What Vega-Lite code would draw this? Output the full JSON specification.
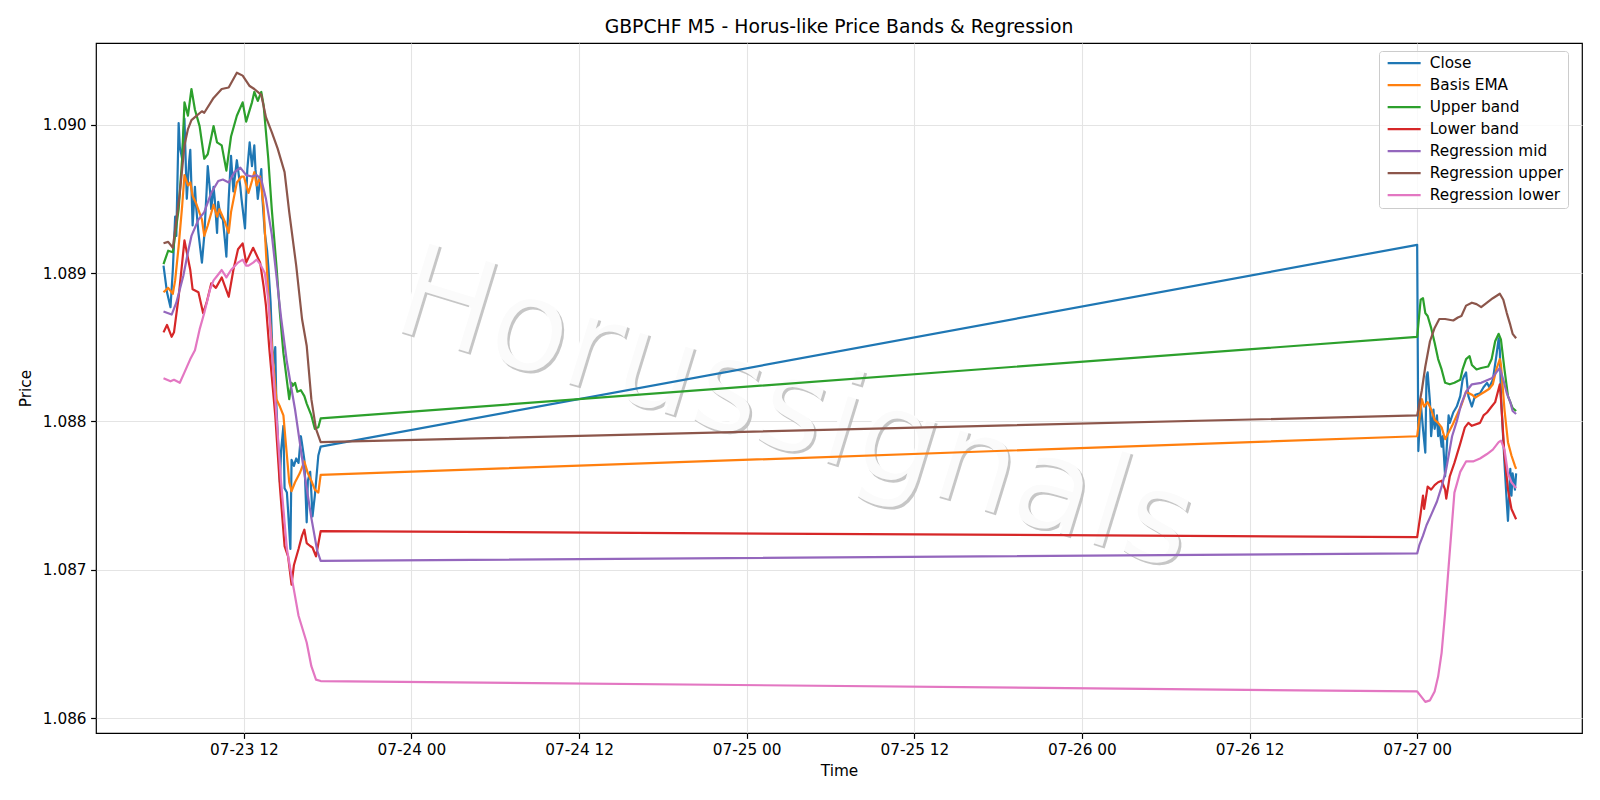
{
"$schema": "https://vega.github.io/schema/vega-lite/v6.json",
"width": 1486, "height": 690,
"autosize": {"type": "none"},
"padding": {"left": 96, "top": 43, "right": 18, "bottom": 67},
"background": "#ffffff",
"title": {"text": "GBPCHF M5 - Horus-like Price Bands & Regression", "fontSize": 18.8, "font": "DejaVu Sans", "fontWeight": "normal", "color": "#000", "baseline": "alphabetic", "offset": 10, "dy": 19, "anchor": "middle"},
"datasets": {
"wm": [{"t": "2025-07-25 03:25", "v": 1.08807, "label": "Horussignals"}],
"main": [
{"s":"Close","t":"2025-07-23 06:15","v":1.08905},{"s":"Close","t":"2025-07-23 06:30","v":1.08887},{"s":"Close","t":"2025-07-23 06:45","v":1.08877},{"s":"Close","t":"2025-07-23 06:55","v":1.08902},{"s":"Close","t":"2025-07-23 07:05","v":1.08938},{"s":"Close","t":"2025-07-23 07:10","v":1.08925},{"s":"Close","t":"2025-07-23 07:20","v":1.09001},{"s":"Close","t":"2025-07-23 07:25","v":1.08985},{"s":"Close","t":"2025-07-23 07:35","v":1.08977},{"s":"Close","t":"2025-07-23 07:45","v":1.09004},{"s":"Close","t":"2025-07-23 07:55","v":1.0895},{"s":"Close","t":"2025-07-23 08:05","v":1.08975},{"s":"Close","t":"2025-07-23 08:10","v":1.08983},{"s":"Close","t":"2025-07-23 08:20","v":1.08932},{"s":"Close","t":"2025-07-23 08:30","v":1.08958},{"s":"Close","t":"2025-07-23 08:35","v":1.08945},{"s":"Close","t":"2025-07-23 08:45","v":1.08927},{"s":"Close","t":"2025-07-23 09:00","v":1.08907},{"s":"Close","t":"2025-07-23 09:10","v":1.08925},{"s":"Close","t":"2025-07-23 09:20","v":1.08955},{"s":"Close","t":"2025-07-23 09:25","v":1.08972},{"s":"Close","t":"2025-07-23 09:35","v":1.08955},{"s":"Close","t":"2025-07-23 09:40","v":1.08943},{"s":"Close","t":"2025-07-23 09:50","v":1.08958},{"s":"Close","t":"2025-07-23 09:55","v":1.0895},{"s":"Close","t":"2025-07-23 10:05","v":1.08927},{"s":"Close","t":"2025-07-23 10:10","v":1.08948},{"s":"Close","t":"2025-07-23 10:20","v":1.08938},{"s":"Close","t":"2025-07-23 10:30","v":1.08936},{"s":"Close","t":"2025-07-23 10:40","v":1.0892},{"s":"Close","t":"2025-07-23 10:45","v":1.08911},{"s":"Close","t":"2025-07-23 10:55","v":1.0895},{"s":"Close","t":"2025-07-23 11:05","v":1.08979},{"s":"Close","t":"2025-07-23 11:15","v":1.08955},{"s":"Close","t":"2025-07-23 11:20","v":1.08963},{"s":"Close","t":"2025-07-23 11:30","v":1.08976},{"s":"Close","t":"2025-07-23 11:35","v":1.0897},{"s":"Close","t":"2025-07-23 11:45","v":1.08958},{"s":"Close","t":"2025-07-23 11:50","v":1.0895},{"s":"Close","t":"2025-07-23 12:05","v":1.0893},{"s":"Close","t":"2025-07-23 12:15","v":1.0897},{"s":"Close","t":"2025-07-23 12:25","v":1.08988},{"s":"Close","t":"2025-07-23 12:35","v":1.08972},{"s":"Close","t":"2025-07-23 12:45","v":1.08986},{"s":"Close","t":"2025-07-23 12:50","v":1.0897},{"s":"Close","t":"2025-07-23 13:00","v":1.0895},{"s":"Close","t":"2025-07-23 13:15","v":1.0897},{"s":"Close","t":"2025-07-23 13:20","v":1.0895},{"s":"Close","t":"2025-07-23 13:30","v":1.08927},{"s":"Close","t":"2025-07-23 13:40","v":1.08915},{"s":"Close","t":"2025-07-23 13:45","v":1.08905},{"s":"Close","t":"2025-07-23 13:55","v":1.0888},{"s":"Close","t":"2025-07-23 14:05","v":1.08837},{"s":"Close","t":"2025-07-23 14:15","v":1.0885},{"s":"Close","t":"2025-07-23 14:20","v":1.0881},{"s":"Close","t":"2025-07-23 14:35","v":1.08759},{"s":"Close","t":"2025-07-23 14:40","v":1.0878},{"s":"Close","t":"2025-07-23 14:50","v":1.08797},{"s":"Close","t":"2025-07-23 14:55","v":1.08755},{"s":"Close","t":"2025-07-23 15:05","v":1.08752},{"s":"Close","t":"2025-07-23 15:10","v":1.0874},{"s":"Close","t":"2025-07-23 15:20","v":1.08714},{"s":"Close","t":"2025-07-23 15:25","v":1.08774},{"s":"Close","t":"2025-07-23 15:35","v":1.0877},{"s":"Close","t":"2025-07-23 15:45","v":1.08775},{"s":"Close","t":"2025-07-23 15:55","v":1.08772},{"s":"Close","t":"2025-07-23 16:05","v":1.0879},{"s":"Close","t":"2025-07-23 16:10","v":1.08785},{"s":"Close","t":"2025-07-23 16:20","v":1.08774},{"s":"Close","t":"2025-07-23 16:30","v":1.08732},{"s":"Close","t":"2025-07-23 16:35","v":1.0876},{"s":"Close","t":"2025-07-23 16:45","v":1.08766},{"s":"Close","t":"2025-07-23 16:50","v":1.08752},{"s":"Close","t":"2025-07-23 16:55","v":1.08736},{"s":"Close","t":"2025-07-23 17:05","v":1.0875},{"s":"Close","t":"2025-07-23 17:10","v":1.08759},{"s":"Close","t":"2025-07-23 17:20","v":1.08777},{"s":"Close","t":"2025-07-23 17:30","v":1.08783},
{"s":"Close","t":"2025-07-27 00:00","v":1.08919},{"s":"Close","t":"2025-07-27 00:05","v":1.0878},{"s":"Close","t":"2025-07-27 00:15","v":1.08813},{"s":"Close","t":"2025-07-27 00:25","v":1.08795},{"s":"Close","t":"2025-07-27 00:35","v":1.08779},{"s":"Close","t":"2025-07-27 00:40","v":1.0883},{"s":"Close","t":"2025-07-27 00:45","v":1.08833},{"s":"Close","t":"2025-07-27 00:55","v":1.08813},{"s":"Close","t":"2025-07-27 01:00","v":1.0879},{"s":"Close","t":"2025-07-27 01:10","v":1.08808},{"s":"Close","t":"2025-07-27 01:15","v":1.08795},{"s":"Close","t":"2025-07-27 01:25","v":1.08804},{"s":"Close","t":"2025-07-27 01:30","v":1.0879},{"s":"Close","t":"2025-07-27 01:35","v":1.08797},{"s":"Close","t":"2025-07-27 01:45","v":1.08783},{"s":"Close","t":"2025-07-27 01:50","v":1.0879},{"s":"Close","t":"2025-07-27 02:00","v":1.08763},{"s":"Close","t":"2025-07-27 02:05","v":1.08777},{"s":"Close","t":"2025-07-27 02:15","v":1.08804},{"s":"Close","t":"2025-07-27 02:20","v":1.08799},{"s":"Close","t":"2025-07-27 02:35","v":1.08806},{"s":"Close","t":"2025-07-27 02:50","v":1.0881},{"s":"Close","t":"2025-07-27 03:05","v":1.08817},{"s":"Close","t":"2025-07-27 03:15","v":1.08828},{"s":"Close","t":"2025-07-27 03:20","v":1.0883},{"s":"Close","t":"2025-07-27 03:30","v":1.08833},{"s":"Close","t":"2025-07-27 03:40","v":1.08817},{"s":"Close","t":"2025-07-27 03:55","v":1.0881},{"s":"Close","t":"2025-07-27 04:10","v":1.08818},{"s":"Close","t":"2025-07-27 04:30","v":1.08819},{"s":"Close","t":"2025-07-27 04:45","v":1.08823},{"s":"Close","t":"2025-07-27 05:00","v":1.08826},{"s":"Close","t":"2025-07-27 05:10","v":1.08823},{"s":"Close","t":"2025-07-27 05:25","v":1.08828},{"s":"Close","t":"2025-07-27 05:40","v":1.08844},{"s":"Close","t":"2025-07-27 05:50","v":1.08856},{"s":"Close","t":"2025-07-27 05:55","v":1.08848},{"s":"Close","t":"2025-07-27 06:00","v":1.08817},{"s":"Close","t":"2025-07-27 06:15","v":1.08772},{"s":"Close","t":"2025-07-27 06:25","v":1.08745},{"s":"Close","t":"2025-07-27 06:30","v":1.08733},{"s":"Close","t":"2025-07-27 06:40","v":1.08768},{"s":"Close","t":"2025-07-27 06:45","v":1.0875},{"s":"Close","t":"2025-07-27 06:50","v":1.08765},{"s":"Close","t":"2025-07-27 07:00","v":1.08754},{"s":"Close","t":"2025-07-27 07:05","v":1.08765},
{"s":"Basis EMA","t":"2025-07-23 06:15","v":1.08887},{"s":"Basis EMA","t":"2025-07-23 06:35","v":1.0889},{"s":"Basis EMA","t":"2025-07-23 06:55","v":1.08886},{"s":"Basis EMA","t":"2025-07-23 07:05","v":1.08895},{"s":"Basis EMA","t":"2025-07-23 07:20","v":1.08918},{"s":"Basis EMA","t":"2025-07-23 07:35","v":1.08945},{"s":"Basis EMA","t":"2025-07-23 07:45","v":1.08966},{"s":"Basis EMA","t":"2025-07-23 08:00","v":1.08959},{"s":"Basis EMA","t":"2025-07-23 08:10","v":1.08961},{"s":"Basis EMA","t":"2025-07-23 08:20","v":1.08952},{"s":"Basis EMA","t":"2025-07-23 08:35","v":1.08947},{"s":"Basis EMA","t":"2025-07-23 09:00","v":1.08936},{"s":"Basis EMA","t":"2025-07-23 09:10","v":1.08925},{"s":"Basis EMA","t":"2025-07-23 09:25","v":1.08932},{"s":"Basis EMA","t":"2025-07-23 09:50","v":1.08946},{"s":"Basis EMA","t":"2025-07-23 10:05","v":1.08938},{"s":"Basis EMA","t":"2025-07-23 10:15","v":1.08943},{"s":"Basis EMA","t":"2025-07-23 10:40","v":1.08934},{"s":"Basis EMA","t":"2025-07-23 10:55","v":1.08927},{"s":"Basis EMA","t":"2025-07-23 11:05","v":1.08941},{"s":"Basis EMA","t":"2025-07-23 11:30","v":1.08961},{"s":"Basis EMA","t":"2025-07-23 11:50","v":1.08965},{"s":"Basis EMA","t":"2025-07-23 12:00","v":1.08965},{"s":"Basis EMA","t":"2025-07-23 12:20","v":1.08954},{"s":"Basis EMA","t":"2025-07-23 12:35","v":1.08962},{"s":"Basis EMA","t":"2025-07-23 12:45","v":1.08968},{"s":"Basis EMA","t":"2025-07-23 12:55","v":1.08959},{"s":"Basis EMA","t":"2025-07-23 13:10","v":1.08965},{"s":"Basis EMA","t":"2025-07-23 13:25","v":1.08945},{"s":"Basis EMA","t":"2025-07-23 13:35","v":1.08914},{"s":"Basis EMA","t":"2025-07-23 13:50","v":1.08873},{"s":"Basis EMA","t":"2025-07-23 14:05","v":1.08842},{"s":"Basis EMA","t":"2025-07-23 14:20","v":1.08815},{"s":"Basis EMA","t":"2025-07-23 14:35","v":1.0881},{"s":"Basis EMA","t":"2025-07-23 14:50","v":1.08804},{"s":"Basis EMA","t":"2025-07-23 15:05","v":1.08777},{"s":"Basis EMA","t":"2025-07-23 15:15","v":1.08759},{"s":"Basis EMA","t":"2025-07-23 15:25","v":1.08753},{"s":"Basis EMA","t":"2025-07-23 15:40","v":1.08759},{"s":"Basis EMA","t":"2025-07-23 16:00","v":1.08765},{"s":"Basis EMA","t":"2025-07-23 16:20","v":1.08773},{"s":"Basis EMA","t":"2025-07-23 16:35","v":1.08765},{"s":"Basis EMA","t":"2025-07-23 16:50","v":1.0876},{"s":"Basis EMA","t":"2025-07-23 17:05","v":1.08754},{"s":"Basis EMA","t":"2025-07-23 17:20","v":1.08752},{"s":"Basis EMA","t":"2025-07-23 17:30","v":1.08764},
{"s":"Basis EMA","t":"2025-07-27 00:00","v":1.0879},{"s":"Basis EMA","t":"2025-07-27 00:20","v":1.08815},{"s":"Basis EMA","t":"2025-07-27 00:30","v":1.0881},{"s":"Basis EMA","t":"2025-07-27 00:45","v":1.08813},{"s":"Basis EMA","t":"2025-07-27 01:00","v":1.08808},{"s":"Basis EMA","t":"2025-07-27 01:15","v":1.08801},{"s":"Basis EMA","t":"2025-07-27 01:30","v":1.08799},{"s":"Basis EMA","t":"2025-07-27 01:45","v":1.08796},{"s":"Basis EMA","t":"2025-07-27 02:00","v":1.08788},{"s":"Basis EMA","t":"2025-07-27 02:10","v":1.08791},{"s":"Basis EMA","t":"2025-07-27 02:30","v":1.08797},{"s":"Basis EMA","t":"2025-07-27 02:50","v":1.08804},{"s":"Basis EMA","t":"2025-07-27 03:10","v":1.08811},{"s":"Basis EMA","t":"2025-07-27 03:30","v":1.0882},{"s":"Basis EMA","t":"2025-07-27 03:55","v":1.08818},{"s":"Basis EMA","t":"2025-07-27 04:10","v":1.08816},{"s":"Basis EMA","t":"2025-07-27 04:30","v":1.08818},{"s":"Basis EMA","t":"2025-07-27 04:50","v":1.0882},{"s":"Basis EMA","t":"2025-07-27 05:10","v":1.08822},{"s":"Basis EMA","t":"2025-07-27 05:25","v":1.08825},{"s":"Basis EMA","t":"2025-07-27 05:40","v":1.08835},{"s":"Basis EMA","t":"2025-07-27 05:55","v":1.08842},{"s":"Basis EMA","t":"2025-07-27 06:00","v":1.08838},{"s":"Basis EMA","t":"2025-07-27 06:15","v":1.08808},{"s":"Basis EMA","t":"2025-07-27 06:30","v":1.08786},{"s":"Basis EMA","t":"2025-07-27 06:45","v":1.08777},{"s":"Basis EMA","t":"2025-07-27 07:00","v":1.0877},{"s":"Basis EMA","t":"2025-07-27 07:05","v":1.08768},
{"s":"Upper band","t":"2025-07-23 06:15","v":1.08906},{"s":"Upper band","t":"2025-07-23 06:35","v":1.08915},{"s":"Upper band","t":"2025-07-23 06:55","v":1.08914},{"s":"Upper band","t":"2025-07-23 07:20","v":1.08943},{"s":"Upper band","t":"2025-07-23 07:35","v":1.08977},{"s":"Upper band","t":"2025-07-23 07:45","v":1.09015},{"s":"Upper band","t":"2025-07-23 08:00","v":1.09006},{"s":"Upper band","t":"2025-07-23 08:15","v":1.09024},{"s":"Upper band","t":"2025-07-23 08:30","v":1.0901},{"s":"Upper band","t":"2025-07-23 08:50","v":1.08999},{"s":"Upper band","t":"2025-07-23 09:10","v":1.08977},{"s":"Upper band","t":"2025-07-23 09:25","v":1.0898},{"s":"Upper band","t":"2025-07-23 09:50","v":1.08999},{"s":"Upper band","t":"2025-07-23 10:05","v":1.08988},{"s":"Upper band","t":"2025-07-23 10:25","v":1.08986},{"s":"Upper band","t":"2025-07-23 10:45","v":1.08969},{"s":"Upper band","t":"2025-07-23 11:05","v":1.08992},{"s":"Upper band","t":"2025-07-23 11:30","v":1.09006},{"s":"Upper band","t":"2025-07-23 11:55","v":1.09015},{"s":"Upper band","t":"2025-07-23 12:10","v":1.09002},{"s":"Upper band","t":"2025-07-23 12:35","v":1.09015},{"s":"Upper band","t":"2025-07-23 12:45","v":1.09022},{"s":"Upper band","t":"2025-07-23 13:00","v":1.09016},{"s":"Upper band","t":"2025-07-23 13:15","v":1.09022},{"s":"Upper band","t":"2025-07-23 13:25","v":1.09013},{"s":"Upper band","t":"2025-07-23 13:45","v":1.08977},{"s":"Upper band","t":"2025-07-23 14:00","v":1.08943},{"s":"Upper band","t":"2025-07-23 14:20","v":1.08905},{"s":"Upper band","t":"2025-07-23 14:35","v":1.08873},{"s":"Upper band","t":"2025-07-23 14:50","v":1.08846},{"s":"Upper band","t":"2025-07-23 15:15","v":1.08815},{"s":"Upper band","t":"2025-07-23 15:25","v":1.08826},{"s":"Upper band","t":"2025-07-23 15:30","v":1.08824},{"s":"Upper band","t":"2025-07-23 15:40","v":1.08826},{"s":"Upper band","t":"2025-07-23 15:50","v":1.0882},{"s":"Upper band","t":"2025-07-23 16:05","v":1.08821},{"s":"Upper band","t":"2025-07-23 16:20","v":1.08817},{"s":"Upper band","t":"2025-07-23 16:30","v":1.08812},{"s":"Upper band","t":"2025-07-23 16:50","v":1.08804},{"s":"Upper band","t":"2025-07-23 17:05","v":1.08795},{"s":"Upper band","t":"2025-07-23 17:20","v":1.08796},{"s":"Upper band","t":"2025-07-23 17:30","v":1.08802},
{"s":"Upper band","t":"2025-07-27 00:00","v":1.08857},{"s":"Upper band","t":"2025-07-27 00:15","v":1.08882},{"s":"Upper band","t":"2025-07-27 00:25","v":1.08883},{"s":"Upper band","t":"2025-07-27 00:35","v":1.08873},{"s":"Upper band","t":"2025-07-27 00:45","v":1.08871},{"s":"Upper band","t":"2025-07-27 01:00","v":1.08863},{"s":"Upper band","t":"2025-07-27 01:15","v":1.08853},{"s":"Upper band","t":"2025-07-27 01:30","v":1.08842},{"s":"Upper band","t":"2025-07-27 01:45","v":1.08835},{"s":"Upper band","t":"2025-07-27 02:00","v":1.08826},{"s":"Upper band","t":"2025-07-27 02:20","v":1.08825},{"s":"Upper band","t":"2025-07-27 02:40","v":1.08826},{"s":"Upper band","t":"2025-07-27 03:05","v":1.08828},{"s":"Upper band","t":"2025-07-27 03:15","v":1.08835},{"s":"Upper band","t":"2025-07-27 03:30","v":1.08842},{"s":"Upper band","t":"2025-07-27 03:45","v":1.08844},{"s":"Upper band","t":"2025-07-27 03:55","v":1.08838},{"s":"Upper band","t":"2025-07-27 04:15","v":1.08835},{"s":"Upper band","t":"2025-07-27 04:35","v":1.08836},{"s":"Upper band","t":"2025-07-27 05:05","v":1.08837},{"s":"Upper band","t":"2025-07-27 05:20","v":1.08842},{"s":"Upper band","t":"2025-07-27 05:35","v":1.08854},{"s":"Upper band","t":"2025-07-27 05:50","v":1.08859},{"s":"Upper band","t":"2025-07-27 06:00","v":1.08855},{"s":"Upper band","t":"2025-07-27 06:15","v":1.08835},{"s":"Upper band","t":"2025-07-27 06:30","v":1.08817},{"s":"Upper band","t":"2025-07-27 06:50","v":1.08809},{"s":"Upper band","t":"2025-07-27 07:05","v":1.08807},
{"s":"Lower band","t":"2025-07-23 06:15","v":1.0886},{"s":"Lower band","t":"2025-07-23 06:30","v":1.08865},{"s":"Lower band","t":"2025-07-23 06:50","v":1.08857},{"s":"Lower band","t":"2025-07-23 07:00","v":1.0886},{"s":"Lower band","t":"2025-07-23 07:20","v":1.08884},{"s":"Lower band","t":"2025-07-23 07:45","v":1.08922},{"s":"Lower band","t":"2025-07-23 08:00","v":1.0891},{"s":"Lower band","t":"2025-07-23 08:10","v":1.08902},{"s":"Lower band","t":"2025-07-23 08:20","v":1.08889},{"s":"Lower band","t":"2025-07-23 08:45","v":1.08887},{"s":"Lower band","t":"2025-07-23 09:05","v":1.08873},{"s":"Lower band","t":"2025-07-23 09:20","v":1.0888},{"s":"Lower band","t":"2025-07-23 09:40","v":1.08893},{"s":"Lower band","t":"2025-07-23 10:00","v":1.0889},{"s":"Lower band","t":"2025-07-23 10:25","v":1.08897},{"s":"Lower band","t":"2025-07-23 10:55","v":1.08884},{"s":"Lower band","t":"2025-07-23 11:15","v":1.08902},{"s":"Lower band","t":"2025-07-23 11:35","v":1.08916},{"s":"Lower band","t":"2025-07-23 11:55","v":1.0892},{"s":"Lower band","t":"2025-07-23 12:10","v":1.08907},{"s":"Lower band","t":"2025-07-23 12:40","v":1.08917},{"s":"Lower band","t":"2025-07-23 13:10","v":1.08907},{"s":"Lower band","t":"2025-07-23 13:25","v":1.08891},{"s":"Lower band","t":"2025-07-23 13:35","v":1.08878},{"s":"Lower band","t":"2025-07-23 13:50","v":1.08848},{"s":"Lower band","t":"2025-07-23 14:15","v":1.08804},{"s":"Lower band","t":"2025-07-23 14:35","v":1.08756},{"s":"Lower band","t":"2025-07-23 14:55","v":1.08716},{"s":"Lower band","t":"2025-07-23 15:10","v":1.08709},{"s":"Lower band","t":"2025-07-23 15:25","v":1.0869},{"s":"Lower band","t":"2025-07-23 15:35","v":1.08703},{"s":"Lower band","t":"2025-07-23 15:55","v":1.08714},{"s":"Lower band","t":"2025-07-23 16:10","v":1.08723},{"s":"Lower band","t":"2025-07-23 16:20","v":1.08727},{"s":"Lower band","t":"2025-07-23 16:30","v":1.08718},{"s":"Lower band","t":"2025-07-23 16:45","v":1.08716},{"s":"Lower band","t":"2025-07-23 16:55","v":1.08715},{"s":"Lower band","t":"2025-07-23 17:10","v":1.08709},{"s":"Lower band","t":"2025-07-23 17:30","v":1.08726},
{"s":"Lower band","t":"2025-07-27 00:00","v":1.08722},{"s":"Lower band","t":"2025-07-27 00:15","v":1.08738},{"s":"Lower band","t":"2025-07-27 00:25","v":1.0875},{"s":"Lower band","t":"2025-07-27 00:30","v":1.08741},{"s":"Lower band","t":"2025-07-27 00:45","v":1.08756},{"s":"Lower band","t":"2025-07-27 01:00","v":1.08754},{"s":"Lower band","t":"2025-07-27 01:15","v":1.08757},{"s":"Lower band","t":"2025-07-27 01:30","v":1.08759},{"s":"Lower band","t":"2025-07-27 01:45","v":1.0876},{"s":"Lower band","t":"2025-07-27 02:00","v":1.08754},{"s":"Lower band","t":"2025-07-27 02:05","v":1.08748},{"s":"Lower band","t":"2025-07-27 02:20","v":1.08763},{"s":"Lower band","t":"2025-07-27 02:40","v":1.08772},{"s":"Lower band","t":"2025-07-27 03:05","v":1.08785},{"s":"Lower band","t":"2025-07-27 03:25","v":1.08796},{"s":"Lower band","t":"2025-07-27 03:40","v":1.08799},{"s":"Lower band","t":"2025-07-27 03:55","v":1.08797},{"s":"Lower band","t":"2025-07-27 04:30","v":1.08799},{"s":"Lower band","t":"2025-07-27 04:45","v":1.08804},{"s":"Lower band","t":"2025-07-27 05:00","v":1.08806},{"s":"Lower band","t":"2025-07-27 05:20","v":1.0881},{"s":"Lower band","t":"2025-07-27 05:35","v":1.08813},{"s":"Lower band","t":"2025-07-27 05:50","v":1.08822},{"s":"Lower band","t":"2025-07-27 05:55","v":1.08825},{"s":"Lower band","t":"2025-07-27 06:00","v":1.08815},{"s":"Lower band","t":"2025-07-27 06:15","v":1.08777},{"s":"Lower band","t":"2025-07-27 06:30","v":1.08754},{"s":"Lower band","t":"2025-07-27 06:45","v":1.08741},{"s":"Lower band","t":"2025-07-27 07:05","v":1.08734},
{"s":"Regression mid","t":"2025-07-23 06:15","v":1.08874},{"s":"Regression mid","t":"2025-07-23 06:50","v":1.08872},{"s":"Regression mid","t":"2025-07-23 07:10","v":1.0888},{"s":"Regression mid","t":"2025-07-23 07:40","v":1.08898},{"s":"Regression mid","t":"2025-07-23 08:00","v":1.08914},{"s":"Regression mid","t":"2025-07-23 08:15","v":1.08925},{"s":"Regression mid","t":"2025-07-23 08:45","v":1.08936},{"s":"Regression mid","t":"2025-07-23 09:10","v":1.08941},{"s":"Regression mid","t":"2025-07-23 09:40","v":1.08954},{"s":"Regression mid","t":"2025-07-23 10:10","v":1.08962},{"s":"Regression mid","t":"2025-07-23 10:30","v":1.08963},{"s":"Regression mid","t":"2025-07-23 10:55","v":1.08961},{"s":"Regression mid","t":"2025-07-23 11:20","v":1.08968},{"s":"Regression mid","t":"2025-07-23 11:45","v":1.08971},{"s":"Regression mid","t":"2025-07-23 12:10","v":1.08966},{"s":"Regression mid","t":"2025-07-23 12:35","v":1.08965},{"s":"Regression mid","t":"2025-07-23 12:55","v":1.08966},{"s":"Regression mid","t":"2025-07-23 13:15","v":1.08963},{"s":"Regression mid","t":"2025-07-23 13:35","v":1.0895},{"s":"Regression mid","t":"2025-07-23 14:00","v":1.08926},{"s":"Regression mid","t":"2025-07-23 14:20","v":1.08898},{"s":"Regression mid","t":"2025-07-23 14:40","v":1.0887},{"s":"Regression mid","t":"2025-07-23 15:05","v":1.0884},{"s":"Regression mid","t":"2025-07-23 15:40","v":1.08808},{"s":"Regression mid","t":"2025-07-23 16:15","v":1.0877},{"s":"Regression mid","t":"2025-07-23 16:50","v":1.08735},{"s":"Regression mid","t":"2025-07-23 17:15","v":1.08713},{"s":"Regression mid","t":"2025-07-23 17:30","v":1.08706},
{"s":"Regression mid","t":"2025-07-27 00:00","v":1.08711},{"s":"Regression mid","t":"2025-07-27 00:10","v":1.08717},{"s":"Regression mid","t":"2025-07-27 00:25","v":1.08723},{"s":"Regression mid","t":"2025-07-27 00:40","v":1.0873},{"s":"Regression mid","t":"2025-07-27 01:00","v":1.08737},{"s":"Regression mid","t":"2025-07-27 01:25","v":1.08746},{"s":"Regression mid","t":"2025-07-27 01:45","v":1.08756},{"s":"Regression mid","t":"2025-07-27 02:05","v":1.08768},{"s":"Regression mid","t":"2025-07-27 02:30","v":1.0879},{"s":"Regression mid","t":"2025-07-27 02:50","v":1.088},{"s":"Regression mid","t":"2025-07-27 03:10","v":1.08812},{"s":"Regression mid","t":"2025-07-27 03:30","v":1.0882},{"s":"Regression mid","t":"2025-07-27 03:55","v":1.08825},{"s":"Regression mid","t":"2025-07-27 04:35","v":1.08826},{"s":"Regression mid","t":"2025-07-27 05:20","v":1.08829},{"s":"Regression mid","t":"2025-07-27 05:40","v":1.08833},{"s":"Regression mid","t":"2025-07-27 05:55","v":1.08836},{"s":"Regression mid","t":"2025-07-27 06:10","v":1.08828},{"s":"Regression mid","t":"2025-07-27 06:25","v":1.08819},{"s":"Regression mid","t":"2025-07-27 06:40","v":1.08813},{"s":"Regression mid","t":"2025-07-27 06:50","v":1.08807},{"s":"Regression mid","t":"2025-07-27 07:05","v":1.08805},
{"s":"Regression upper","t":"2025-07-23 06:15","v":1.0892},{"s":"Regression upper","t":"2025-07-23 06:35","v":1.08921},{"s":"Regression upper","t":"2025-07-23 06:55","v":1.08917},{"s":"Regression upper","t":"2025-07-23 07:25","v":1.08954},{"s":"Regression upper","t":"2025-07-23 07:45","v":1.08986},{"s":"Regression upper","t":"2025-07-23 08:00","v":1.08997},{"s":"Regression upper","t":"2025-07-23 08:15","v":1.09003},{"s":"Regression upper","t":"2025-07-23 08:30","v":1.09005},{"s":"Regression upper","t":"2025-07-23 09:00","v":1.09009},{"s":"Regression upper","t":"2025-07-23 09:10","v":1.09008},{"s":"Regression upper","t":"2025-07-23 09:50","v":1.09018},{"s":"Regression upper","t":"2025-07-23 10:25","v":1.09024},{"s":"Regression upper","t":"2025-07-23 10:55","v":1.09025},{"s":"Regression upper","t":"2025-07-23 11:30","v":1.09035},{"s":"Regression upper","t":"2025-07-23 11:55","v":1.09033},{"s":"Regression upper","t":"2025-07-23 12:25","v":1.09026},{"s":"Regression upper","t":"2025-07-23 12:45","v":1.09024},{"s":"Regression upper","t":"2025-07-23 13:15","v":1.0902},{"s":"Regression upper","t":"2025-07-23 13:35","v":1.09005},{"s":"Regression upper","t":"2025-07-23 14:00","v":1.08995},{"s":"Regression upper","t":"2025-07-23 14:25","v":1.08984},{"s":"Regression upper","t":"2025-07-23 14:55","v":1.08968},{"s":"Regression upper","t":"2025-07-23 15:15","v":1.08941},{"s":"Regression upper","t":"2025-07-23 15:45","v":1.08905},{"s":"Regression upper","t":"2025-07-23 16:10","v":1.08869},{"s":"Regression upper","t":"2025-07-23 16:30","v":1.08851},{"s":"Regression upper","t":"2025-07-23 16:50","v":1.08815},{"s":"Regression upper","t":"2025-07-23 17:10","v":1.08795},{"s":"Regression upper","t":"2025-07-23 17:30","v":1.08786},
{"s":"Regression upper","t":"2025-07-27 00:00","v":1.08804},{"s":"Regression upper","t":"2025-07-27 00:20","v":1.08821},{"s":"Regression upper","t":"2025-07-27 00:35","v":1.08837},{"s":"Regression upper","t":"2025-07-27 00:55","v":1.08854},{"s":"Regression upper","t":"2025-07-27 01:15","v":1.08863},{"s":"Regression upper","t":"2025-07-27 01:35","v":1.08869},{"s":"Regression upper","t":"2025-07-27 02:00","v":1.08869},{"s":"Regression upper","t":"2025-07-27 02:35","v":1.08868},{"s":"Regression upper","t":"2025-07-27 02:55","v":1.0887},{"s":"Regression upper","t":"2025-07-27 03:10","v":1.08871},{"s":"Regression upper","t":"2025-07-27 03:30","v":1.08878},{"s":"Regression upper","t":"2025-07-27 03:55","v":1.0888},{"s":"Regression upper","t":"2025-07-27 04:15","v":1.08879},{"s":"Regression upper","t":"2025-07-27 04:35","v":1.08877},{"s":"Regression upper","t":"2025-07-27 05:00","v":1.0888},{"s":"Regression upper","t":"2025-07-27 05:25","v":1.08883},{"s":"Regression upper","t":"2025-07-27 05:55","v":1.08886},{"s":"Regression upper","t":"2025-07-27 06:10","v":1.08882},{"s":"Regression upper","t":"2025-07-27 06:25","v":1.08873},{"s":"Regression upper","t":"2025-07-27 06:40","v":1.08865},{"s":"Regression upper","t":"2025-07-27 06:50","v":1.08859},{"s":"Regression upper","t":"2025-07-27 07:05","v":1.08856},
{"s":"Regression lower","t":"2025-07-23 06:15","v":1.08829},{"s":"Regression lower","t":"2025-07-23 06:45","v":1.08827},{"s":"Regression lower","t":"2025-07-23 07:00","v":1.08828},{"s":"Regression lower","t":"2025-07-23 07:25","v":1.08826},{"s":"Regression lower","t":"2025-07-23 07:45","v":1.08833},{"s":"Regression lower","t":"2025-07-23 08:10","v":1.08842},{"s":"Regression lower","t":"2025-07-23 08:30","v":1.08848},{"s":"Regression lower","t":"2025-07-23 08:50","v":1.08862},{"s":"Regression lower","t":"2025-07-23 09:10","v":1.08873},{"s":"Regression lower","t":"2025-07-23 09:35","v":1.08889},{"s":"Regression lower","t":"2025-07-23 09:50","v":1.08895},{"s":"Regression lower","t":"2025-07-23 10:05","v":1.08898},{"s":"Regression lower","t":"2025-07-23 10:25","v":1.08902},{"s":"Regression lower","t":"2025-07-23 10:45","v":1.08897},{"s":"Regression lower","t":"2025-07-23 11:05","v":1.08902},{"s":"Regression lower","t":"2025-07-23 11:35","v":1.08907},{"s":"Regression lower","t":"2025-07-23 11:55","v":1.08909},{"s":"Regression lower","t":"2025-07-23 12:10","v":1.08905},{"s":"Regression lower","t":"2025-07-23 12:20","v":1.08905},{"s":"Regression lower","t":"2025-07-23 12:40","v":1.08907},{"s":"Regression lower","t":"2025-07-23 12:55","v":1.08909},{"s":"Regression lower","t":"2025-07-23 13:10","v":1.08906},{"s":"Regression lower","t":"2025-07-23 13:30","v":1.089},{"s":"Regression lower","t":"2025-07-23 13:45","v":1.08882},{"s":"Regression lower","t":"2025-07-23 14:00","v":1.08848},{"s":"Regression lower","t":"2025-07-23 14:20","v":1.08804},{"s":"Regression lower","t":"2025-07-23 14:40","v":1.08759},{"s":"Regression lower","t":"2025-07-23 15:05","v":1.08714},{"s":"Regression lower","t":"2025-07-23 15:30","v":1.08691},{"s":"Regression lower","t":"2025-07-23 15:55","v":1.08669},{"s":"Regression lower","t":"2025-07-23 16:30","v":1.08651},{"s":"Regression lower","t":"2025-07-23 16:50","v":1.08635},{"s":"Regression lower","t":"2025-07-23 17:10","v":1.08626},{"s":"Regression lower","t":"2025-07-23 17:30","v":1.08625},
{"s":"Regression lower","t":"2025-07-27 00:00","v":1.08618},{"s":"Regression lower","t":"2025-07-27 00:20","v":1.08614},{"s":"Regression lower","t":"2025-07-27 00:35","v":1.08611},{"s":"Regression lower","t":"2025-07-27 00:55","v":1.08612},{"s":"Regression lower","t":"2025-07-27 01:15","v":1.08618},{"s":"Regression lower","t":"2025-07-27 01:30","v":1.08628},{"s":"Regression lower","t":"2025-07-27 01:45","v":1.08644},{"s":"Regression lower","t":"2025-07-27 02:00","v":1.08671},{"s":"Regression lower","t":"2025-07-27 02:15","v":1.08702},{"s":"Regression lower","t":"2025-07-27 02:30","v":1.08732},{"s":"Regression lower","t":"2025-07-27 02:40","v":1.08752},{"s":"Regression lower","t":"2025-07-27 03:05","v":1.08766},{"s":"Regression lower","t":"2025-07-27 03:30","v":1.08773},{"s":"Regression lower","t":"2025-07-27 04:00","v":1.08773},{"s":"Regression lower","t":"2025-07-27 04:30","v":1.08775},{"s":"Regression lower","t":"2025-07-27 05:00","v":1.08778},{"s":"Regression lower","t":"2025-07-27 05:25","v":1.08781},{"s":"Regression lower","t":"2025-07-27 05:50","v":1.08786},{"s":"Regression lower","t":"2025-07-27 06:00","v":1.08787},{"s":"Regression lower","t":"2025-07-27 06:15","v":1.08781},{"s":"Regression lower","t":"2025-07-27 06:30","v":1.08765},{"s":"Regression lower","t":"2025-07-27 06:45","v":1.08759},{"s":"Regression lower","t":"2025-07-27 07:05","v":1.08755}
]
},
"encoding": {
 "x": {"field": "t", "type": "temporal", "title": "Time",
   "scale": {"type": "time", "domain": [{"year": 2025, "month": 7, "date": 23, "hours": 1, "minutes": 25}, {"year": 2025, "month": 7, "date": 27, "hours": 11, "minutes": 48}]},
   "axis": {"format": "%m-%d %H", "values": [{"year": 2025, "month": 7, "date": 23, "hours": 12}, {"year": 2025, "month": 7, "date": 24, "hours": 0}, {"year": 2025, "month": 7, "date": 24, "hours": 12}, {"year": 2025, "month": 7, "date": 25, "hours": 0}, {"year": 2025, "month": 7, "date": 25, "hours": 12}, {"year": 2025, "month": 7, "date": 26, "hours": 0}, {"year": 2025, "month": 7, "date": 26, "hours": 12}, {"year": 2025, "month": 7, "date": 27, "hours": 0}], "titlePadding": 5}},
 "y": {"field": "v", "type": "quantitative", "title": "Price",
   "scale": {"domain": [1.0859, 1.09055], "zero": false, "nice": false},
   "axis": {"values": [1.086, 1.087, 1.088, 1.089, 1.09], "format": ".3f", "titlePadding": 9}}
},
"layer": [
 {"data": {"name": "wm"}, "mark": {"type": "text", "angle": 17, "fontSize": 129, "font": "DejaVu Sans", "align": "center", "baseline": "middle", "fill": "#b8b8b8", "fillOpacity": 0.8, "dx": 3, "dy": 1.8}, "encoding": {"text": {"field": "label"}}},
 {"data": {"name": "wm"}, "mark": {"type": "text", "angle": 17, "fontSize": 129, "font": "DejaVu Sans", "align": "center", "baseline": "middle", "fill": "#ffffff", "fillOpacity": 0.92}, "encoding": {"text": {"field": "label"}}},
 {"data": {"name": "main"}, "mark": {"type": "line", "strokeWidth": 2.2, "strokeJoin": "round"},
  "encoding": {"color": {"field": "s", "type": "nominal",
    "scale": {"domain": ["Close", "Basis EMA", "Upper band", "Lower band", "Regression mid", "Regression upper", "Regression lower"], "range": ["#1f77b4", "#ff7f0e", "#2ca02c", "#d62728", "#9467bd", "#8c564b", "#e377c2"]},
    "legend": {"orient": "none", "legendX": 1283, "legendY": 8, "title": null, "symbolType": "M-0.636,0L5.364,0", "symbolSize": 121, "symbolStrokeWidth": 2.2, "labelOffset": 31, "labelFontSize": 15.3, "labelFont": "DejaVu Sans", "labelColor": "#000", "padding": 4.5, "rowPadding": 6, "strokeColor": "#cccccc", "fillColor": "rgba(255,255,255,0.8)", "cornerRadius": 3}}}}
],
"config": {
 "view": {"stroke": "#000", "strokeWidth": 1.2},
 "font": "DejaVu Sans",
 "axis": {"domain": false, "grid": true, "gridColor": "#e4e4e4", "gridWidth": 1.1, "tickColor": "#000", "tickWidth": 1.2, "tickSize": 5.4, "labelPadding": 4.5, "labelFont": "DejaVu Sans", "labelFontSize": 15.3, "labelColor": "#000", "titleFont": "DejaVu Sans", "titleFontSize": 15.3, "titleFontWeight": "normal", "titleColor": "#000"}
}
}
